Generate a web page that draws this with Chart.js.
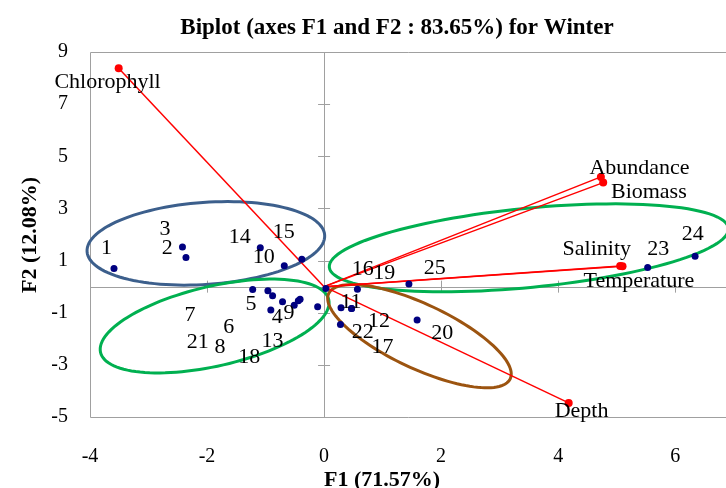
<!DOCTYPE html>
<html>
<head>
<meta charset="utf-8">
<title>Biplot Winter</title>
<script src="https://cdn.jsdelivr.net/npm/chart.js@4.4.1/dist/chart.umd.min.js"></script>
<style>
  html, body { margin: 0; padding: 0; background: #fff; }
</style>
</head>
<body>
<canvas id="biplot" width="726" height="488"></canvas>
<script>
// observations (stations)
const obsLabels = ['1','2','3','4','5','6','7','8','9','10','11','12','13','14','15','16','17','18','19','20','21','22','23','24','25'];
const obsX = [-3.59, -2.36, -2.42, -0.91, -1.22, -0.88, -0.96, -0.44, -0.71, -0.68, 0.29, 0.47, -0.11, -1.09, -0.38, 0.57, 0.47, -0.41, 0.03, 1.59, -0.51, 0.28, 5.53, 6.34, 1.45];
const obsY = [0.70, 1.12, 1.52, -0.90, -0.11, -0.35, -0.16, -0.54, -0.58, 0.80, -0.81, -0.84, -0.77, 1.49, 1.05, -0.10, -0.84, -0.48, -0.07, -1.28, -0.71, -1.45, 0.73, 1.17, 0.10];
// where the station labels sit
const obsLabelX = [-3.72, -2.68, -2.72, -0.80, -1.25, -1.63, -2.29, -1.78, -0.60, -1.03, 0.46, 0.94, -0.88, -1.44, -0.69, 0.66, 1.00, -1.28, 1.03, 2.02, -2.16, 0.66, 5.71, 6.30, 1.89];
const obsLabelY = [1.46, 1.49, 2.19, -1.16, -0.67, -1.54, -1.09, -2.31, -1.03, 1.12, -0.58, -1.31, -2.11, 1.88, 2.08, 0.66, -2.31, -2.69, 0.51, -1.79, -2.15, -1.73, 1.43, 2.01, 0.70];

// variables (loadings)
const varNames = ['Chlorophyll', 'Abundance', 'Biomass', 'Salinity', 'Temperature', 'Depth'];
const varX = [-3.51, 4.73, 4.77, 5.06, 5.10, 4.18];
const varY = [8.38, 4.21, 3.99, 0.79, 0.78, -4.46];
const varLabelX = [-3.70, 5.39, 5.55, 4.66, 5.38, 4.40];
const varLabelY = [7.85, 4.54, 3.62, 1.44, 0.21, -4.77];

// groups drawn as ellipses: centre + two half-axis vectors, in F1/F2 units
const groupCx = [-2.02, -1.87, 3.50, 1.63];
const groupCy = [1.66, -1.51, 1.49, -1.90];
const groupU = [[2.03, 0.32], [1.95, 1.01], [3.41, 0.75], [1.55, -1.64]];
const groupV = [[0.05, -1.57], [0.15, -1.49], [0.07, -1.51], [-0.24, -1.11]];
const groupColors = ['#3c5f8c', '#00b050', '#00b050', '#9c5410'];

const xTicks = [-4, -2, 0, 2, 4, 6];
const yTicks = [-5, -3, -1, 1, 3, 5, 7, 9];

const serif = '"Liberation Serif", "DejaVu Serif", serif';

const datasets = [{
  label: 'Observations',
  data: obsX.map((x, i) => ({ x: x, y: obsY[i] })),
  backgroundColor: '#000080',
  borderWidth: 0,
  pointRadius: 3.5
}];

varNames.forEach((name, i) => {
  datasets.push({
    label: name,
    data: [{ x: 0, y: 0 }, { x: varX[i], y: varY[i] }],
    showLine: true,
    borderColor: '#ff0000',
    borderWidth: 1.5,
    backgroundColor: '#ff0000',
    pointRadius: [0, 4],
    pointBorderWidth: 0
  });
});

const decor = {
  id: 'decor',
  beforeDatasetsDraw(chart) {
    const ctx = chart.ctx;
    const xs = chart.scales.x, ys = chart.scales.y;
    const { left, top, right, bottom } = chart.chartArea;
    const x0 = xs.getPixelForValue(0), y0 = ys.getPixelForValue(0);
    const w = chart.width;
    ctx.save();
    ctx.strokeStyle = '#a0a0a0';
    ctx.lineWidth = 1;
    ctx.beginPath();
    ctx.moveTo(w, top + 0.5); ctx.lineTo(left + 0.5, top + 0.5);
    ctx.lineTo(left + 0.5, bottom + 0.5); ctx.lineTo(w, bottom + 0.5);
    ctx.moveTo(Math.round(x0) + 0.5, top); ctx.lineTo(Math.round(x0) + 0.5, bottom);
    ctx.moveTo(left, Math.round(y0) + 0.5); ctx.lineTo(w, Math.round(y0) + 0.5);
    yTicks.forEach(v => {
      const p = Math.round(ys.getPixelForValue(v)) + 0.5;
      ctx.moveTo(x0 - 6, p); ctx.lineTo(x0 + 6, p);
    });
    xTicks.forEach(v => {
      const p = Math.round(xs.getPixelForValue(v)) + 0.5;
      ctx.moveTo(p, y0 - 6); ctx.lineTo(p, y0 + 6);
    });
    ctx.stroke();

    // ellipses
    ctx.lineWidth = 3;
    groupCx.forEach((cx, g) => {
      ctx.strokeStyle = groupColors[g];
      ctx.beginPath();
      for (let k = 0; k <= 120; k++) {
        const t = k / 120 * Math.PI * 2;
        const dx = cx + Math.cos(t) * groupU[g][0] + Math.sin(t) * groupV[g][0];
        const dy = groupCy[g] + Math.cos(t) * groupU[g][1] + Math.sin(t) * groupV[g][1];
        const px = xs.getPixelForValue(dx), py = ys.getPixelForValue(dy);
        if (k === 0) ctx.moveTo(px, py); else ctx.lineTo(px, py);
      }
      ctx.closePath();
      ctx.stroke();
    });
    ctx.restore();
  },
  afterDatasetsDraw(chart) {
    const ctx = chart.ctx;
    const xs = chart.scales.x, ys = chart.scales.y;
    ctx.save();
    ctx.fillStyle = '#000';
    ctx.font = '22px ' + serif;
    ctx.textAlign = 'center';
    ctx.textBaseline = 'middle';
    obsLabels.forEach((t, i) => {
      ctx.fillText(t, xs.getPixelForValue(obsLabelX[i]), ys.getPixelForValue(obsLabelY[i]));
    });
    varNames.forEach((t, i) => {
      ctx.fillText(t, xs.getPixelForValue(varLabelX[i]), ys.getPixelForValue(varLabelY[i]));
    });

    // titles
    ctx.textBaseline = 'alphabetic';
    ctx.font = 'bold 23px ' + serif;
    ctx.fillText('Biplot (axes F1 and F2 : 83.65%) for Winter', 397, 34);
    ctx.font = 'bold 22px ' + serif;
    ctx.fillText('F1 (71.57%)', 382, 486);
    ctx.translate(36, 235);
    ctx.rotate(-Math.PI / 2);
    ctx.fillText('F2 (12.08%)', 0, 0);
    ctx.restore();
  }
};

const ctx = document.getElementById('biplot').getContext('2d');
const chart = new Chart(ctx, {
  type: 'scatter',
  data: { datasets: datasets },
  options: {
    responsive: false,
    animation: false,
    layout: { padding: { top: 52, right: 0, bottom: 0, left: 0 } },
    plugins: {
      legend: { display: false },
      tooltip: { enabled: false }
    },
    scales: {
      x: {
        type: 'linear',
        min: -4,
        max: 6.8,
        afterBuildTicks: s => { s.ticks = xTicks.map(v => ({ value: v })); },
        afterFit: s => { s.height = 71; },
        grid: { display: false },
        border: { display: false },
        ticks: { color: '#000', font: { family: serif, size: 20 }, padding: 20, maxRotation: 0 }
      },
      y: {
        type: 'linear',
        min: -5,
        max: 9,
        afterBuildTicks: s => { s.ticks = yTicks.map(v => ({ value: v })); },
        afterFit: s => { s.width = 90; },
        grid: { display: false },
        border: { display: false },
        ticks: { color: '#000', font: { family: serif, size: 20 }, padding: 14 }
      }
    }
  },
  plugins: [decor]
});
</script>
</body>
</html>
